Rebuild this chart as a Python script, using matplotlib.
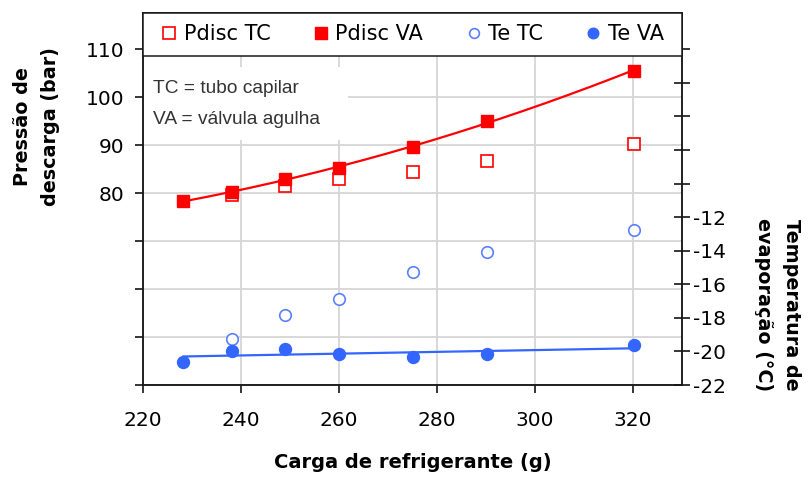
import numpy as np
import matplotlib
matplotlib.use("Agg")
import matplotlib.pyplot as plt
from matplotlib.lines import Line2D
from matplotlib.patches import Rectangle

plt.rcParams['font.family'] = ['DejaVu Sans']
plt.rcParams['axes.unicode_minus'] = False

# ---- data ----
charge = [228.2, 238.2, 248.9, 260.0, 275.0, 290.3, 320.2]
charge_tc = [238.2, 248.9, 260.0, 275.0, 290.3, 320.2]
pdisc_va = [78.4, 80.2, 82.9, 85.2, 89.6, 95.1, 105.5]
pdisc_tc = [79.6, 81.4, 82.9, 84.5, 86.7, 90.25]
te_va = [-20.6, -19.96, -19.86, -20.14, -20.36, -20.15, -19.64]
te_tc = [-19.23, -17.83, -16.88, -15.27, -14.05, -12.77]

x_ticks = [220, 240, 260, 280, 300, 320]
left_ticks = [40, 50, 60, 70, 80, 90, 100, 110]
left_labels = ['', '', '', '', '80', '90', '100', '110']
right_ticks = [-22, -20, -18, -16, -14, -12, -10, -8, -6, -4, -2]
right_labels = ['-22', '-20', '-18', '-16', '-14', '-12', '', '', '', '', '']
legend_names = ['Pdisc TC', 'Pdisc VA', 'Te TC', 'Te VA']
note_lines = ['TC = tubo capilar', 'VA = válvula agulha']

RED = '#ff0000'
BLUE = '#3366ff'
BLUE_L = '#5b7fff'
W, H = 808, 483

fig = plt.figure(figsize=(W / 100, H / 100), dpi=100)
L, R, B, T = 143.3, 681.7, 385.0, 12.7
ax = fig.add_axes([L / W, 1 - B / H, (R - L) / W, (B - T) / H])
ax2 = ax.twinx()

ax.set_xlim(220, 330)
ax.set_ylim(40, 117.6)
ax2.set_ylim(-22, 0.18)

def fx(px):
    return (px - L) / (R - L)

def fy(py):
    return (B - py) / (B - T)

# grid
ax.set_axisbelow(True)
ax.grid(True, color='#d6d6d6', linewidth=1.3, zorder=0)

# note box (white background covering grid)
ax.add_patch(Rectangle((0, fy(140)), fx(348), fy(67) - fy(140), transform=ax.transAxes,
                       facecolor='white', edgecolor='none', zorder=1))
for line, yc in zip(note_lines, [88.3, 120.0]):
    ax.text(fx(153.3), fy(yc), line, transform=ax.transAxes,
            ha='left', va='center', fontsize=13.8, family='Liberation Sans',
            color='#333333', zorder=3)

# Pdisc
ax.plot(charge_tc, pdisc_tc, linestyle='none', marker='s', ms=8.0, mfc='white',
        mec=RED, mew=1.2, zorder=4)
c2 = np.polyfit(charge, pdisc_va, 2)
xs = np.linspace(min(charge), max(charge), 200)
ax.plot(xs, np.polyval(c2, xs), color=RED, lw=1.6, zorder=4)
ax.plot(charge, pdisc_va, linestyle='none', marker='s', ms=8.6, color=RED, zorder=5)

# Te
ax2.plot(charge_tc, te_tc, linestyle='none', marker='o', ms=8.3, mfc='white',
         mec=BLUE_L, mew=1.2, zorder=4)
c1 = np.polyfit(charge, te_va, 1)
xl = np.array([min(charge), max(charge)])
ax2.plot(xl, np.polyval(c1, xl), color=BLUE, lw=1.6, zorder=4)
ax2.plot(charge, te_va, linestyle='none', marker='o', ms=8.6, color=BLUE, zorder=5)

# ticks
ax.set_xticks(x_ticks)
ax.set_yticks(left_ticks, left_labels)
ax2.set_yticks(right_ticks, right_labels)
for a in (ax, ax2):
    for s in a.spines.values():
        s.set_linewidth(1.1)
        s.set_color('#1a1a1a')
ax.tick_params(axis='x', direction='out', length=5.5, width=1.1, pad=13.5,
               labelsize=14.5, colors='black')
ax.tick_params(axis='y', direction='out', length=5.8, width=1.1, pad=7.5,
               labelsize=14.5, colors='black')
ax2.tick_params(axis='y', direction='inout', length=11.5, width=1.1, pad=2.5,
                labelsize=14.5, colors='black')

# legend band
ax2.add_patch(Rectangle((0, fy(55.7)), 1, 1 - fy(55.7), transform=ax2.transAxes,
                        facecolor='white', edgecolor='#1a1a1a', linewidth=1.1,
                        zorder=9, clip_on=False))
handles = [
    Line2D([], [], linestyle='none', marker='s', ms=8.0, mfc='white', mec=RED, mew=1.2),
    Line2D([], [], linestyle='none', marker='s', ms=8.6, color=RED),
    Line2D([], [], linestyle='none', marker='o', ms=7.0, mfc='white', mec=BLUE_L, mew=1.2),
    Line2D([], [], linestyle='none', marker='o', ms=7.6, color=BLUE),
]
leg = ax2.legend(handles, legend_names, loc='center',
                 bbox_to_anchor=(fx(163), fy(55.7), fx(664) - fx(163), 1 - fy(55.7)),
                 mode='expand', ncol=4, borderaxespad=0, frameon=False,
                 fontsize=15, handlelength=0.6, handletextpad=0.4, borderpad=0.0,
                 columnspacing=1.0)
leg.set_zorder(10)

# axis titles
fig.text(36.5 / W, 1 - 127 / H, 'Pressão de\ndescarga (bar)', rotation=90,
         ha='center', va='center', fontsize=13.8, fontweight='bold', linespacing=1.6,
         multialignment='center')
fig.text(778 / W, 1 - 305 / H, 'Temperatura de\nevaporação (°C)', rotation=270,
         ha='center', va='center', fontsize=13.8, fontweight='bold', linespacing=1.6,
         multialignment='center')
fig.text(412.5 / W, 1 - 463 / H, 'Carga de refrigerante (g)', ha='center', va='center',
         fontsize=14, fontweight='bold')

fig.savefig('out.png', dpi=100)
